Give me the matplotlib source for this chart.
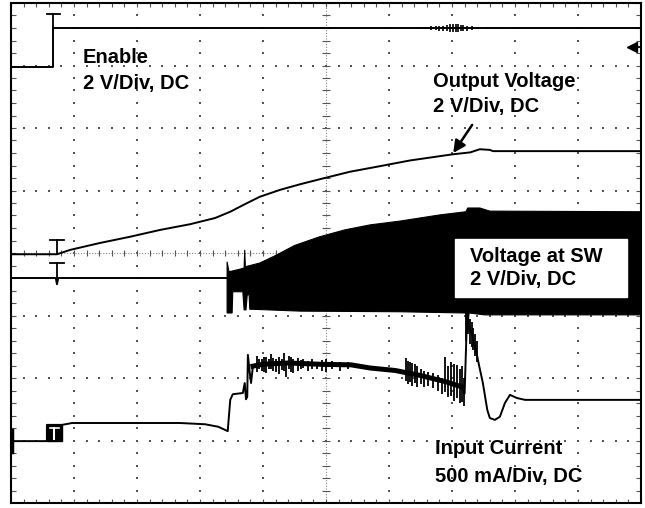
import numpy as np
import matplotlib
matplotlib.use("Agg")
import matplotlib.pyplot as plt
from matplotlib.patches import Rectangle

# all values in scope divisions: 10 across, 8 up (0 = bottom edge)

# channel 1: enable
enable_t = [0, 0.67, 0.67, 10]
enable_v = [6.98, 6.98, 7.60, 7.60]
# ripple burst on the enable line (time, low, high)
enable_nz_t = [6.50, 6.58, 6.66, 6.74, 6.80, 6.86, 6.92, 6.97, 7.02, 7.06, 7.10,
               7.14, 7.18, 7.24, 7.32, 7.42, 7.55, 7.70]
enable_nz_lo = [7.58, 7.58, 7.57, 7.57, 7.56, 7.56, 7.55, 7.54, 7.54, 7.53, 7.54,
                7.55, 7.55, 7.56, 7.57, 7.58, 7.58, 7.59]
enable_nz_hi = [7.62, 7.62, 7.63, 7.63, 7.64, 7.64, 7.65, 7.66, 7.66, 7.67, 7.66,
                7.65, 7.65, 7.64, 7.63, 7.62, 7.62, 7.61]

# channel 2: output voltage
vout_t = [0, 0.73, 0.94, 1.41, 1.89, 2.37, 2.84, 3.24, 3.48, 3.71, 3.95, 4.27, 4.59,
          4.90, 5.38, 5.86, 6.33, 6.81, 7.02, 7.29, 7.44, 7.60, 7.65, 10]
vout_v = [3.98, 3.98, 4.05, 4.16, 4.26, 4.37, 4.46, 4.56, 4.66, 4.78, 4.90, 5.01, 5.10,
          5.18, 5.30, 5.39, 5.48, 5.55, 5.58, 5.61, 5.66, 5.65, 5.63, 5.63]

# channel 3: switch node, idle part then envelope of the switching
sw_idle_t = [0, 0.71, 0.73, 0.75, 3.43]
sw_idle_v = [3.60, 3.60, 3.50, 3.60, 3.60]
sw_top_t = [3.43, 3.43, 3.46, 3.63, 3.70, 3.71, 3.72, 3.95, 4.20, 4.50, 4.90, 5.30,
            5.70, 6.17, 6.81, 7.22, 7.25, 7.44, 7.60, 10]
sw_top_v = [3.60, 3.86, 3.70, 3.74, 3.76, 4.05, 3.78, 3.84, 3.96, 4.12, 4.26, 4.37,
            4.45, 4.51, 4.61, 4.66, 4.72, 4.72, 4.67, 4.66]
sw_bot_t = [3.43, 3.51, 3.52, 3.68, 3.70, 3.73, 3.75, 3.78, 3.79, 3.83, 4.59, 6.17,
            7.22, 7.24, 7.25, 7.27, 7.52, 10]
sw_bot_v = [3.04, 3.04, 3.38, 3.38, 3.09, 3.09, 3.33, 3.33, 3.10, 3.10, 3.07, 3.06,
            3.04, 2.74, 2.77, 3.04, 3.01, 3.01]

# channel 4: input current, mean trace
iin_t = [0, 0.57, 0.57, 0.81, 0.97, 2.68, 3.08, 3.29, 3.44, 3.48, 3.52, 3.68, 3.71,
         3.73, 3.75, 3.76, 3.79, 3.81, 3.84, 4.00, 4.40, 4.90, 5.40, 5.70, 6.10,
         6.50, 6.90, 7.15, 7.20, 7.24, 7.28, 7.33, 7.38, 7.43, 7.49, 7.56, 7.60,
         7.68, 7.76, 7.84, 7.92, 8.03, 8.16, 10]
iin_v = [0.99, 0.99, 1.25, 1.25, 1.28, 1.28, 1.26, 1.22, 1.15, 1.65, 1.74, 1.76, 1.92,
         1.66, 1.70, 2.37, 2.08, 1.92, 2.19, 2.22, 2.24, 2.22, 2.21, 2.16, 2.12,
         2.04, 1.94, 1.86, 1.75, 3.04, 2.80, 2.65, 2.45, 2.20, 1.92, 1.49, 1.36,
         1.33, 1.38, 1.60, 1.73, 1.68, 1.65, 1.65]
# noise spikes on the input current (time, low, high)
iin_nz_t = [3.90, 3.94, 3.98, 4.02, 4.05, 4.09, 4.12, 4.16, 4.20, 4.26, 4.30, 4.33,
            4.37, 4.42, 4.45, 4.48, 4.55, 4.60, 4.63, 4.72, 4.78, 4.85, 4.93, 5.00,
            5.10, 5.22, 5.35,
            6.27, 6.30, 6.34, 6.37, 6.41, 6.45, 6.50, 6.56, 6.62, 6.70, 6.78, 6.84,
            6.89, 6.94, 6.98, 7.03, 7.08, 7.12, 7.16, 7.19,
            7.23, 7.25, 7.28, 7.31, 7.33, 7.36, 7.39]
iin_nz_lo = [2.10, 2.14, 2.12, 2.10, 2.08, 2.14, 2.15, 2.12, 2.10, 2.06, 2.13, 2.12,
             2.02, 2.14, 2.10, 2.08, 2.12, 2.14, 2.16, 2.12, 2.15, 2.14, 2.12, 2.10,
             2.14, 2.12, 2.15,
             1.95, 1.90, 1.93, 1.88, 1.92, 1.86, 1.90, 1.85, 1.88, 1.84, 1.80, 1.74,
             1.78, 1.70, 1.72, 1.64, 1.68, 1.60, 1.62, 1.56,
             2.60, 2.70, 2.55, 2.50, 2.45, 2.35, 2.25]
iin_nz_hi = [2.36, 2.30, 2.30, 2.33, 2.34, 2.30, 2.38, 2.32, 2.30, 2.34, 2.31, 2.40,
             2.28, 2.36, 2.33, 2.30, 2.32, 2.29, 2.30, 2.28, 2.30, 2.26, 2.29, 2.30,
             2.28, 2.26, 2.26,
             2.32, 2.28, 2.26, 2.24, 2.22, 2.20, 2.15, 2.12, 2.10, 2.08, 2.05, 2.00,
             2.34, 2.20, 2.26, 2.22, 2.21, 2.15, 2.20, 2.00,
             3.04, 3.00, 2.95, 2.90, 2.80, 2.70, 2.60]

labels = [
    (1.14, 7.04, "Enable"), (1.14, 6.62, "2 V/Div, DC"),
    (6.70, 6.66, "Output Voltage"), (6.70, 6.26, "2 V/Div, DC"),
    (7.29, 3.86, "Voltage at SW"), (7.29, 3.49, "2 V/Div, DC"),
    (6.73, 0.78, "Input Current"), (6.73, 0.34, "500 mA/Div, DC"),
]

fig = plt.figure(figsize=(6.45, 5.08), dpi=100)
ax = fig.add_axes([11 / 645, 5 / 508, 630 / 645, 500 / 508])
ax.set_xlim(0, 10)
ax.set_ylim(0, 8)
ax.set_xticks([])
ax.set_yticks([])
for s in ax.spines.values():
    s.set_linewidth(1.5)
    s.set_color("black")

# graticule: dotted major lines, dashed centre cross, edge ticks
minor_x = np.arange(0, 10.01, 0.2)
minor_y = np.arange(0, 8.01, 0.2)
gx, gy = [], []
for i in [1, 2, 3, 4, 6, 7, 8, 9]:
    gx += [i] * len(minor_y)
    gy += list(minor_y)
for j in [1, 2, 3, 5, 6, 7]:
    gx += list(minor_x)
    gy += [j] * len(minor_x)
ax.scatter(gx, gy, s=1.6, marker="s", color="#555555", linewidths=0, zorder=1)
ax.axhline(4, color="#888888", lw=0.8, ls=(0, (1, 1.5)), zorder=1)
ax.axvline(5, color="#888888", lw=0.8, ls=(0, (1, 1.5)), zorder=1)
ax.vlines(minor_x, 3.95, 4.05, color="#555555", lw=0.8, zorder=1)
ax.hlines(minor_y, 4.94, 5.06, color="#555555", lw=0.8, zorder=1)
ax.vlines(minor_x, 7.94, 8, color="#555555", lw=0.8)
ax.vlines(minor_x, 0, 0.06, color="#555555", lw=0.8)
ax.hlines(minor_y, 0, 0.08, color="#555555", lw=0.8)
ax.hlines(minor_y, 9.92, 10, color="#555555", lw=0.8)

lw = 1.4
ax.plot(enable_t, enable_v, color="black", lw=lw, zorder=3)
ax.vlines(enable_nz_t, enable_nz_lo, enable_nz_hi, color="black", lw=1.2, zorder=3)
ax.plot(vout_t, vout_v, color="black", lw=lw, zorder=3)
ax.plot(sw_idle_t, sw_idle_v, color="black", lw=lw, zorder=3)
ax.fill(sw_top_t + sw_bot_t[::-1], sw_top_v + sw_bot_v[::-1],
        facecolor="black", edgecolor="black", lw=0.8, zorder=3)
ax.plot(iin_t, iin_v, color="black", lw=lw, zorder=4)
# the switching ripple makes the current trace look thick
ax.plot(iin_t[18:28], iin_v[18:28], color="black", lw=3.6, zorder=4)
ax.vlines(iin_nz_t, iin_nz_lo, iin_nz_hi, color="black", lw=1.3, zorder=4)

# channel markers
ax.plot([0.57, 0.77], [7.82, 7.82], color="black", lw=1.3)
ax.plot([0.67, 0.67], [7.82, 7.60], color="black", lw=1.3)
ax.plot([0.62, 0.84], [4.21, 4.21], color="black", lw=1.3)
ax.plot([0.73, 0.73], [4.21, 3.98], color="black", lw=1.3)
ax.plot([0.62, 0.84], [3.84, 3.84], color="black", lw=1.3)
ax.plot([0.73, 0.73], [3.84, 3.60], color="black", lw=1.3)
ax.add_patch(Rectangle((0.57, 0.99), 0.24, 0.26, color="black", zorder=4))
ax.plot([0.62, 0.76], [1.20, 1.20], color="white", lw=1.2, zorder=5)
ax.plot([0.69, 0.69], [1.20, 1.03], color="white", lw=1.5, zorder=5)
ax.plot([0.01, 0.01], [0.82, 1.17], color="black", lw=2.5, zorder=5)
ax.plot([9.9, 10], [7.30, 7.30], color="black", lw=1.3)
ax.plot([9.86], [7.30], marker="<", color="black", markersize=7)

# SW label box
ax.add_patch(Rectangle((7.05, 3.30), 2.73, 0.92, facecolor="white",
                       edgecolor="white", zorder=6))
for x, y, txt in labels:
    ax.text(x, y, txt, fontsize=14.5, fontweight="bold",
            family=["Liberation Sans", "DejaVu Sans"], va="baseline",
            ha="left", zorder=7)

ax.annotate("", xy=(7.02, 5.60), xytext=(7.32, 6.05),
            arrowprops=dict(arrowstyle="-|>", lw=1.8, color="black",
                            mutation_scale=18, shrinkA=0, shrinkB=0))

fig.savefig("out.png", dpi=100)
